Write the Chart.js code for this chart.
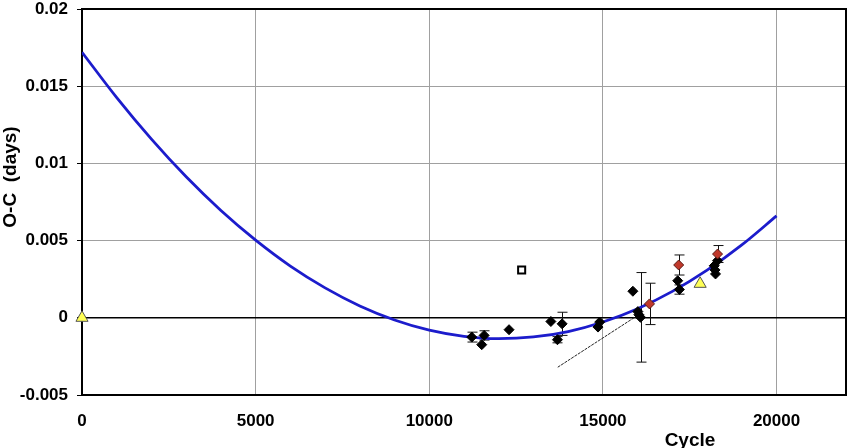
<!DOCTYPE html>
<html>
<head>
<meta charset="utf-8">
<script src="https://cdn.jsdelivr.net/npm/chart.js@4"></script>
<style>
  html, body { margin: 0; padding: 0; background: #fff; }
  canvas { display: block; }
</style>
</head>
<body>
<canvas id="ocChart" width="854" height="448"></canvas>
<script>
// quadratic ephemeris fit
const curveCycle = [0, 1000, 2000, 3000, 4000, 5000, 6000, 7000, 8000, 9000, 10000,
                    11000, 12000, 13000, 14000, 15000, 16000, 17000, 18000, 19000, 20000];
const curveOC = [0.0172, 0.01426, 0.01157, 0.00913, 0.00695, 0.00503, 0.00335, 0.00194,
                 0.00077, -0.00014, -0.0008, -0.0012, -0.00135, -0.00124, -0.00089,
                 -0.00027, 0.00059, 0.00171, 0.00309, 0.00472, 0.0066];

// thin straight line (linear ephemeris)
const lineCycle = [13700, 16100];
const lineOC = [-0.0032, 0.0003];

// black minima
const blackCycle = [11224, 11580, 11511, 12297, 13502, 13826, 13691, 14907, 14859,
                    15863, 16007, 16083, 16035, 17154, 17202, 18206, 18229, 18243, 18300];
const blackOC = [-0.00125, -0.00114, -0.00174, -0.00077, -0.00024, -0.00039, -0.00142,
                 -0.00028, -0.0006, 0.00172, 0.0004, 0.00003, 0.0002, 0.0024, 0.00183,
                 0.00337, 0.0031, 0.00284, 0.0037];
const blackErr = [0.00032, 0.0003, 0, 0, 0, 0.00075, 0.0002, 0, 0,
                  0, 0, 0.0029, 0, 0, 0.0003, 0, 0, 0, 0];

// red minima
const redCycle = [16342, 17182, 18301];
const redOC = [0.0009, 0.00342, 0.00413];
const redErr = [0.00134, 0.00065, 0.00055];

// yellow triangles
const yellowCycle = [0, 17800];
const yellowOC = [0, 0.0022];

// open square
const squareCycle = [12660];
const squareOC = [0.0031];

const xTickValues = [0, 5000, 10000, 15000, 20000];
const yTickValues = [-0.005, 0, 0.005, 0.01, 0.015, 0.02];

const pts = (xs, ys) => xs.map((x, i) => ({ x: x, y: ys[i] }));

// frame + error bars under the markers
const frameAndErrors = {
  id: "frameAndErrors",
  beforeDatasetsDraw(chart) {
    const { ctx, chartArea: a, scales: { x, y } } = chart;
    ctx.save();
    ctx.strokeStyle = "#000";
    ctx.lineWidth = 2;
    ctx.strokeRect(a.left, a.top, a.right - a.left, a.bottom - a.top);

    ctx.lineWidth = 1;
    ctx.strokeStyle = "#111";
    const bars = (xs, ys, es) => {
      xs.forEach((cx, i) => {
        if (!es[i]) return;
        const px = Math.round(x.getPixelForValue(cx)) + 0.5;
        const top = y.getPixelForValue(ys[i] + es[i]);
        const bot = y.getPixelForValue(ys[i] - es[i]);
        ctx.beginPath();
        ctx.moveTo(px, top); ctx.lineTo(px, bot);
        ctx.moveTo(px - 5, top); ctx.lineTo(px + 5, top);
        ctx.moveTo(px - 5, bot); ctx.lineTo(px + 5, bot);
        ctx.stroke();
      });
    };
    bars(blackCycle, blackOC, blackErr);
    bars(redCycle, redOC, redErr);
    ctx.restore();
  },
  afterDraw(chart) {
    const { ctx } = chart;
    ctx.save();
    ctx.fillStyle = "#000";
    ctx.font = "bold 19px 'Liberation Sans', Arial, sans-serif";
    ctx.textAlign = "center";
    ctx.textBaseline = "alphabetic";
    ctx.fillText("Cycle", 690, 446);

    ctx.translate(11, 177);
    ctx.rotate(-Math.PI / 2);
    ctx.textBaseline = "middle";
    ctx.fillText("O-C  (days)", 0, 0);
    ctx.restore();
  }
};

const tickFont = { family: "'Liberation Sans', Arial, sans-serif", size: 17, weight: "bold" };

new Chart(document.getElementById("ocChart"), {
  type: "scatter",
  data: {
    datasets: [
      {
        data: pts(yellowCycle, yellowOC),
        pointStyle: "triangle", pointRadius: 7,
        backgroundColor: "#ffff55", borderColor: "#555", borderWidth: 1,
        clip: false
      },
      {
        data: pts(redCycle, redOC),
        pointStyle: "rectRot", pointRadius: 5,
        backgroundColor: "#c0392b", borderColor: "#5a1a14", borderWidth: 1
      },
      {
        data: pts(blackCycle, blackOC),
        pointStyle: "rectRot", pointRadius: 5,
        backgroundColor: "#000", borderColor: "#000", borderWidth: 1
      },
      {
        data: pts(squareCycle, squareOC),
        pointStyle: "rect", pointRadius: 5,
        backgroundColor: "#fff", borderColor: "#000", borderWidth: 2
      },
      {
        type: "line",
        data: pts(curveCycle, curveOC),
        borderColor: "#1c1ccc", borderWidth: 2.8,
        pointRadius: 0, cubicInterpolationMode: "monotone", fill: false
      },
      {
        type: "line",
        data: pts(lineCycle, lineOC),
        borderColor: "#222", borderWidth: 1, borderDash: [3, 1],
        pointRadius: 0, fill: false
      }
    ]
  },
  options: {
    responsive: false,
    animation: false,
    devicePixelRatio: 1,
    layout: { padding: { top: 9, right: 0, left: 0, bottom: 0 } },
    plugins: { legend: { display: false }, tooltip: { enabled: false } },
    scales: {
      x: {
        type: "linear", min: 0, max: 22000,
        afterBuildTicks: s => { s.ticks = xTickValues.map(v => ({ value: v })); },
        afterFit: s => { s.height = 53; s.paddingLeft = 0; s.paddingRight = 0; },
        grid: { color: "#a0a0a0", lineWidth: 1, drawTicks: false },
        border: { display: false },
        ticks: { color: "#000", font: tickFont, padding: 16, maxRotation: 0,
                 callback: v => String(v) }
      },
      y: {
        type: "linear", min: -0.005, max: 0.02,
        afterBuildTicks: s => { s.ticks = yTickValues.map(v => ({ value: v })); },
        afterFit: s => { s.width = 82; s.paddingTop = 0; s.paddingBottom = 0; },
        grid: {
          color: c => (c.tick && c.tick.value === 0 ? "#000" : "#a0a0a0"),
          lineWidth: c => (c.tick && c.tick.value === 0 ? 1.6 : 1),
          tickColor: "#000", tickLength: 5
        },
        border: { display: false },
        ticks: {
          color: "#000", font: tickFont, padding: 9,
          callback: v => String(Number(v.toFixed(3)))
        }
      }
    }
  },
  plugins: [frameAndErrors]
});
</script>
</body>
</html>
